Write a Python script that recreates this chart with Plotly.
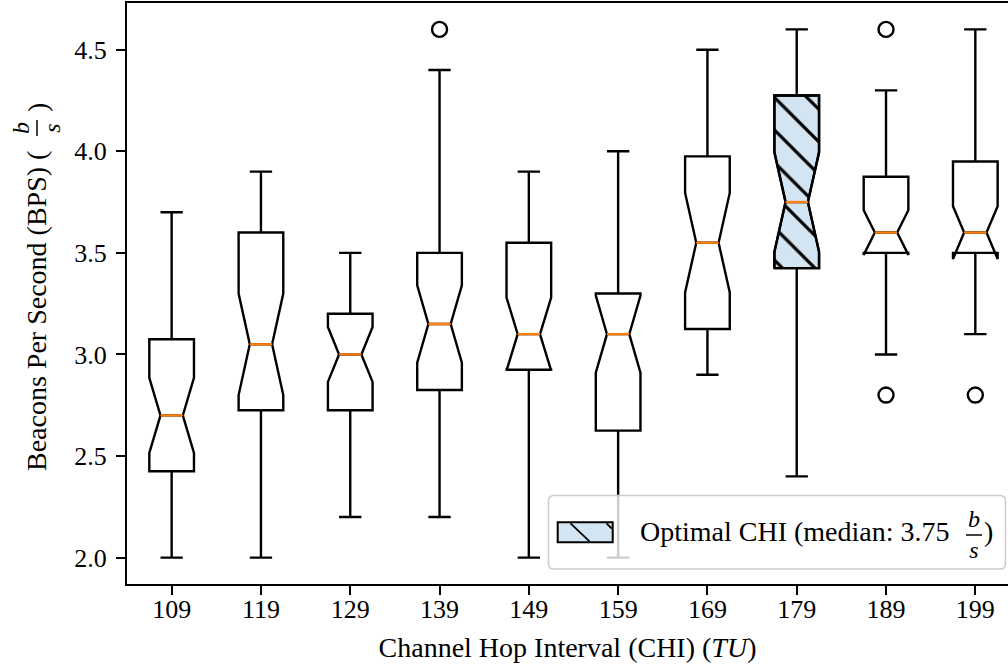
import plotly.graph_objects as go

# ---------------- data ----------------
categories = ["109", "119", "129", "139", "149", "159", "169", "179", "189", "199"]
positions = [1, 2, 3, 4, 5, 6, 7, 8, 9, 10]
q1 = [2.425, 2.725, 2.725, 2.825, 2.925, 2.625, 3.125, 3.425, 3.50, 3.50]
medians = [2.70, 3.05, 3.00, 3.15, 3.10, 3.10, 3.55, 3.75, 3.60, 3.60]
q3 = [3.075, 3.60, 3.20, 3.50, 3.55, 3.30, 3.975, 4.275, 3.875, 3.95]
lower_whisker = [2.0, 2.0, 2.2, 2.2, 2.0, 2.0, 2.9, 2.4, 3.0, 3.1]
upper_whisker = [3.7, 3.9, 3.5, 4.4, 3.9, 4.0, 4.5, 4.6, 4.3, 4.6]
notch_span = [0.185, 0.25, 0.135, 0.19, 0.18, 0.19, 0.245, 0.245, 0.11, 0.13]
outlier_pos = [4, 9, 9, 10]
outlier_val = [4.6, 4.6, 2.8, 2.8]
optimal_index = 7          # CHI = 179
y_tick_vals = [2.0, 2.5, 3.0, 3.5, 4.0, 4.5]
y_tick_text = ["2.0", "2.5", "3.0", "3.5", "4.0", "4.5"]

# ---------------- style ----------------
FONT = "Liberation Serif"
FS = 26        # tick labels
FL = 28        # axis titles / legend text
LW = 2.4
BOX_W = 0.5
ORANGE = "#ff7f0e"
LIGHTBLUE = "rgb(211,229,243)"
W, H = 1008, 666
ML, MR, MT, MB = 127, 0, 3, 82


def fx(px):
    return (px - ML) / (W - ML - MR)


def fy(py):
    return (H - MB - py) / (H - MT - MB)


plain = [i for i in range(len(positions)) if i != optimal_index]


def sel(arr, idx):
    return [arr[i] for i in idx]


fig = go.Figure()

box_common = dict(notched=True, notchwidth=0.25, width=BOX_W, whiskerwidth=0.5,
                  boxpoints=False, showlegend=False, hoverinfo="skip")

fig.add_trace(go.Box(
    x=sel(positions, plain), q1=sel(q1, plain), median=sel(medians, plain),
    q3=sel(q3, plain), lowerfence=sel(lower_whisker, plain),
    upperfence=sel(upper_whisker, plain), notchspan=sel(notch_span, plain),
    fillcolor="rgba(0,0,0,0)", line=dict(color="black", width=LW), **box_common))

o = [optimal_index]
fig.add_trace(go.Box(
    x=sel(positions, o), q1=sel(q1, o), median=sel(medians, o), q3=sel(q3, o),
    lowerfence=sel(lower_whisker, o), upperfence=sel(upper_whisker, o),
    notchspan=sel(notch_span, o), fillcolor=LIGHTBLUE,
    line=dict(color="black", width=LW), **box_common))

# hatch overlay for the optimal box (polygon follows the notched outline)
p = positions[optimal_index]
a, m, b = q1[optimal_index], medians[optimal_index], q3[optimal_index]
ln, un = m - notch_span[optimal_index], m + notch_span[optimal_index]
hw, nw = BOX_W / 2, BOX_W / 4
hx = [p - hw, p - hw, p - nw, p - hw, p - hw, p + hw, p + hw, p + nw, p + hw, p + hw, p - hw]
hy = [a, ln, m, un, b, b, un, m, ln, a, a]
fig.add_trace(go.Scatter(
    x=hx, y=hy, mode="lines", fill="toself", fillcolor="rgba(0,0,0,0)",
    fillpattern=dict(shape="\\", size=23, solidity=0.14, fgcolor="black",
                     fgopacity=1, bgcolor="rgba(0,0,0,0)", fillmode="replace"),
    line=dict(width=0, color="rgba(0,0,0,0)"), showlegend=False, hoverinfo="skip"))
# redraw outline on top of hatch
fig.add_trace(go.Scatter(
    x=hx, y=hy, mode="lines", line=dict(color="black", width=LW),
    showlegend=False, hoverinfo="skip"))

# orange median lines
mx, my = [], []
for pos, med in zip(positions, medians):
    mx += [pos - nw, pos + nw, None]
    my += [med, med, None]
fig.add_trace(go.Scatter(x=mx, y=my, mode="lines", line=dict(color=ORANGE, width=LW),
                         showlegend=False, hoverinfo="skip"))

# outliers
fig.add_trace(go.Scatter(
    x=outlier_pos, y=outlier_val, mode="markers",
    marker=dict(symbol="circle-open", size=15, color="black", line=dict(width=2.4, color="black")),
    showlegend=False, hoverinfo="skip"))

fig.update_layout(
    width=W, height=H, margin=dict(l=ML, r=MR, t=MT, b=MB, autoexpand=False),
    paper_bgcolor="white", plot_bgcolor="white", boxmode="overlay",
    font=dict(family=FONT, size=FS, color="black"),
    showlegend=False,
)
fig.update_xaxes(range=[0.5, 10.366], tickvals=positions, ticktext=categories,
                 showline=True, linecolor="black", linewidth=2, mirror=True,
                 ticks="outside", ticklen=9, tickwidth=2, tickcolor="black",
                 showgrid=False, zeroline=False, ticklabelstandoff=-8,
                 tickfont=dict(family=FONT, size=FS, color="black"))
fig.update_yaxes(range=[1.87, 4.73], tickvals=y_tick_vals, ticktext=y_tick_text,
                 showline=True, linecolor="black", linewidth=2, mirror=False,
                 ticks="outside", ticklen=9, tickwidth=2, tickcolor="black",
                 showgrid=False, zeroline=False, ticklabelstandoff=4,
                 tickfont=dict(family=FONT, size=FS, color="black"))

shapes = []
anns = []

# ---- legend (drawn manually) ----
x0, x1, y0, y1, r = 548.5, 1005.5, 495.5, 569.0, 5.6
path = (f"M {fx(x0 + r)},{fy(y0)} L {fx(x1 - r)},{fy(y0)} Q {fx(x1)},{fy(y0)} {fx(x1)},{fy(y0 + r)} "
        f"L {fx(x1)},{fy(y1 - r)} Q {fx(x1)},{fy(y1)} {fx(x1 - r)},{fy(y1)} "
        f"L {fx(x0 + r)},{fy(y1)} Q {fx(x0)},{fy(y1)} {fx(x0)},{fy(y1 - r)} "
        f"L {fx(x0)},{fy(y0 + r)} Q {fx(x0)},{fy(y0)} {fx(x0 + r)},{fy(y0)} Z")
shapes.append(dict(type="path", path=path, xref="paper", yref="paper", layer="above",
                   fillcolor="rgba(255,255,255,0.8)", line=dict(color="#cccccc", width=1.5)))
shapes.append(dict(type="rect", xref="paper", yref="paper", layer="above",
                   x0=fx(557.7), x1=fx(612.7), y0=fy(542.3), y1=fy(522.3),
                   fillcolor=LIGHTBLUE, line=dict(color="black", width=2)))
shapes.append(dict(type="line", xref="paper", yref="paper", layer="above",
                   x0=fx(570.5), y0=fy(523.3), x1=fx(589.5), y1=fy(541.3),
                   line=dict(color="black", width=1.8)))
shapes.append(dict(type="line", xref="paper", yref="paper", layer="above",
                   x0=fx(606.5), y0=fy(523.3), x1=fx(611.7), y1=fy(528.5),
                   line=dict(color="black", width=1.8)))
anns.append(dict(text="Optimal CHI (median: 3.75", x=fx(795), y=fy(531), xref="paper", yref="paper",
                 xanchor="center", yanchor="middle", showarrow=False,
                 font=dict(family=FONT, size=FL, color="black")))
anns.append(dict(text="<i>b</i><br><i>s</i>", x=fx(974), y=fy(534), xref="paper", yref="paper",
                 xanchor="center", yanchor="middle", showarrow=False,
                 font=dict(family=FONT, size=24, color="black")))
shapes.append(dict(type="line", xref="paper", yref="paper", layer="above",
                   x0=fx(966), y0=fy(535), x1=fx(982), y1=fy(535),
                   line=dict(color="black", width=1.5)))
anns.append(dict(text=")", x=fx(988), y=fy(531), xref="paper", yref="paper",
                 xanchor="center", yanchor="middle", showarrow=False,
                 font=dict(family=FONT, size=FL, color="black")))

# ---- x axis label (as an axis title, placed below the tick labels) ----
fig.update_xaxes(title=dict(text="Channel Hop Interval (CHI) (<i>TU</i>)",
                            font=dict(family=FONT, size=FL, color="black"), standoff=14))

# ---- y axis label ----
anns.append(dict(text="Beacons Per Second (BPS) (", x=fx(37), y=fy(311), textangle=-90,
                 xref="paper", yref="paper", xanchor="center", yanchor="middle",
                 showarrow=False, font=dict(family=FONT, size=FL, color="black")))
anns.append(dict(text="<i>b</i><br><i>s</i>", x=fx(37), y=fy(128), textangle=-90,
                 xref="paper", yref="paper", xanchor="center", yanchor="middle",
                 showarrow=False, font=dict(family=FONT, size=24, color="black")))
shapes.append(dict(type="line", xref="paper", yref="paper", layer="above",
                   x0=fx(37), y0=fy(120), x1=fx(37), y1=fy(136),
                   line=dict(color="black", width=1.5)))
anns.append(dict(text=")", x=fx(37), y=fy(108), textangle=-90,
                 xref="paper", yref="paper", xanchor="center", yanchor="middle",
                 showarrow=False, font=dict(family=FONT, size=FL, color="black")))

fig.update_layout(shapes=shapes, annotations=anns)
fig.write_html("out.html")
